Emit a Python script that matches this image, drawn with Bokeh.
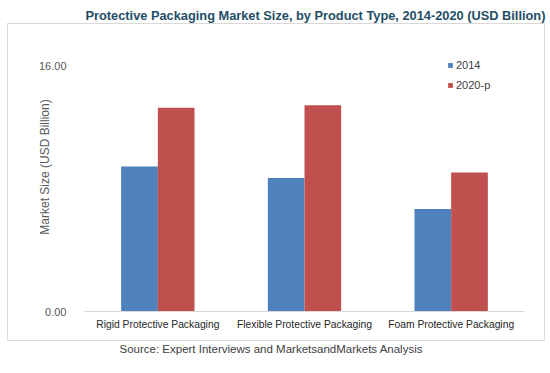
from bokeh.plotting import figure
from bokeh.models import (ColumnDataSource, FactorRange, Range1d, FixedTicker,
                          NumeralTickFormatter, Title, Legend, LegendItem, InlineStyleSheet)
from bokeh.transform import dodge
from bokeh.embed import file_html
from bokeh.resources import INLINE

categories = ["Rigid Protective Packaging", "Flexible Protective Packaging", "Foam Protective Packaging"]
values_2014 = [9.46, 8.72, 6.69]
values_2020p = [13.30, 13.47, 9.08]
series_names = ["2014", "2020-p"]
y_ticks = [0, 16]

src = ColumnDataSource(dict(cat=categories, v2014=values_2014, v2020=values_2020p))

W, H = 550, 372
FL, FW, FT, FH = 84, 440, 22, 289
box_css = InlineStyleSheet(css="""
:host { position: relative; }
:host::after { content: ""; position: absolute; left: 7px; top: 23px; width: 538px; height: 318px;
  border: 1px solid #d9d9d9; box-sizing: border-box; pointer-events: none; }
""")

p = figure(width=W, height=H, x_range=FactorRange(*categories, range_padding=0),
           y_range=Range1d(0, 18.87), output_backend="svg", toolbar_location=None,
           min_border_left=FL, min_border_right=W - FL - FW,
           min_border_top=FT, min_border_bottom=H - FT - FH,
           stylesheets=[box_css])
p.outline_line_color = None
p.xgrid.grid_line_color = None
p.ygrid.grid_line_color = None

r1 = p.vbar(x=dodge("cat", -0.125, range=p.x_range), top="v2014", width=0.25,
            source=src, fill_color="#4f81bd", line_color=None)
r2 = p.vbar(x=dodge("cat", 0.125, range=p.x_range), top="v2020", width=0.25,
            source=src, fill_color="#c0504d", line_color=None)

xa = p.xaxis[0]
xa.axis_line_color = "#d9d9d9"
xa.major_tick_line_color = None
xa.minor_tick_line_color = None
xa.major_label_text_font = "Liberation Sans"
xa.major_label_text_font_size = "10.3px"
xa.major_label_text_color = "#262626"
xa.major_label_standoff = 1

ya = p.yaxis[0]
ya.ticker = FixedTicker(ticks=y_ticks)
ya.formatter = NumeralTickFormatter(format="0.00")
ya.axis_line_color = None
ya.major_tick_line_color = None
ya.minor_tick_line_color = None
ya.major_label_text_font = "Liberation Sans"
ya.major_label_text_font_size = "11px"
ya.major_label_text_color = "#595959"
ya.major_label_standoff = 12
ya.axis_label = "Market Size (USD Billion)"
ya.axis_label_text_font = "Liberation Sans"
ya.axis_label_text_font_style = "normal"
ya.axis_label_text_font_size = "12px"
ya.axis_label_text_color = "#595959"
ya.axis_label_standoff = -16

p.add_layout(Title(text="Protective Packaging Market Size, by Product Type, 2014-2020 (USD Billion)",
                   align="left", offset=1, standoff=0,
                   text_font="Liberation Sans", text_font_style="bold",
                   text_font_size="12.8px", text_color="#1f4e66"), "above")

p.add_layout(Title(text="Source: Expert Interviews and MarketsandMarkets Analysis",
                   align="left", offset=35, standoff=16,
                   text_font="Liberation Sans", text_font_style="normal",
                   text_font_size="11.5px", text_color="#404040"), "below")

legend = Legend(items=[LegendItem(label=series_names[0], renderers=[r1]),
                       LegendItem(label=series_names[1], renderers=[r2])],
                location=(363, 219), orientation="vertical")
legend.background_fill_alpha = 0
legend.border_line_color = None
legend.padding = 0
legend.margin = 0
legend.spacing = 6
legend.glyph_width = 6
legend.glyph_height = 6
legend.label_height = 14
legend.label_standoff = 3
legend.label_text_font = "Liberation Sans"
legend.label_text_font_size = "11px"
legend.label_text_color = "#404040"
p.add_layout(legend, "center")

open("out.html", "w").write(file_html(p, INLINE))
